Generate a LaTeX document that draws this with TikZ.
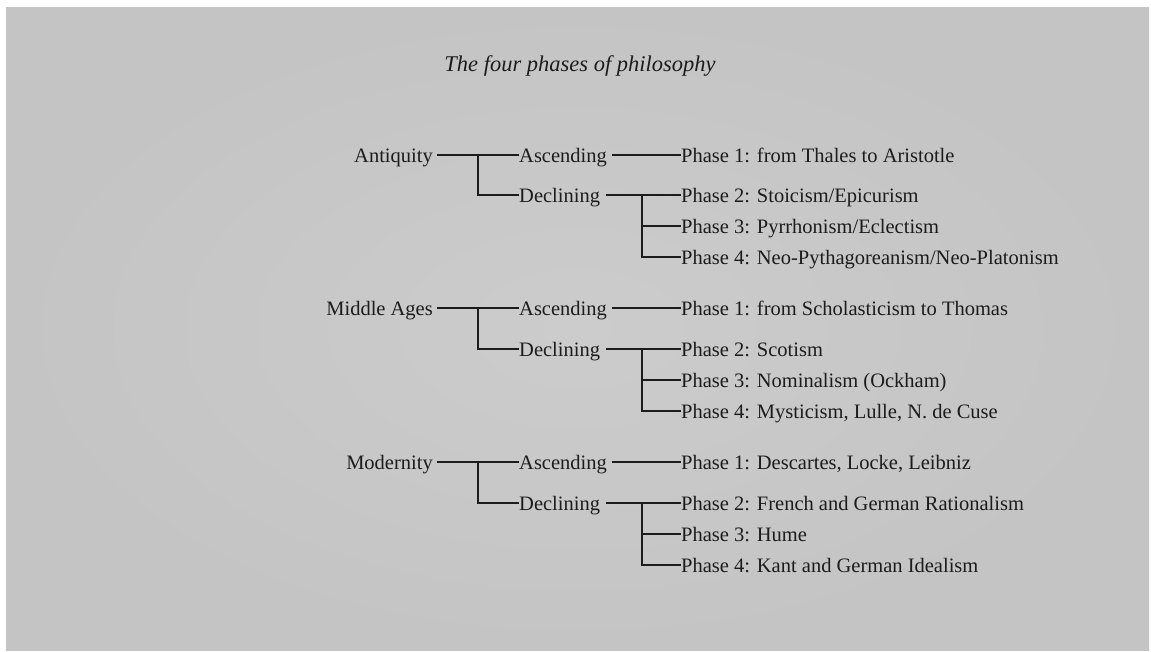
\documentclass[tikz,border=0pt]{standalone}
\usepackage{fontspec}
\setmainfont{Liberation Serif}
\definecolor{ink}{RGB}{28,28,28}
\definecolor{bginner}{RGB}{204,204,204}
\definecolor{bgouter}{RGB}{196,196,196}
\tikzset{
  lbl/.style={inner sep=0pt, text height=20pt, text depth=5pt,
    text=ink, font=\fontsize{20.5}{24}\selectfont},
  era/.style={lbl, anchor=east},
  branch/.style={lbl, anchor=west},
  link/.style={draw=ink, line width=1.6pt},
}
\begin{document}
\begin{tikzpicture}[x=1pt,y=-1pt]
  \useasboundingbox (0,0) rectangle (1151,651);
  \fill[white] (0,0) rectangle (1151,651);
  \shade[inner color=bginner, outer color=bgouter] (6,7) rectangle (1149,650);

  \node[font=\fontsize{22.5}{26}\selectfont\itshape, text=ink, anchor=base]
    (title) at (580,71) {The four phases of philosophy};

  % x positions of the two vertical branch lines
  \coordinate (bA) at (478,0);
  \coordinate (bB) at (642,0);

  % ---------- Antiquity ----------
  \node[era] (e1) at (433,155) {Antiquity};
  \node[branch] (a1) at (519,155) {Ascending};
  \node[branch] (d1) at (519,195) {Declining};
  \node[branch] (p11) at (681,155) {Phase 1: from Thales to Aristotle};
  \node[branch] (p12) at (681,195) {Phase 2: Stoicism/Epicurism};
  \node[branch] (p13) at (681,226) {Phase 3: Pyrrhonism/Eclectism};
  \node[branch] (p14) at (681,257) {Phase 4: Neo-Pythagoreanism/Neo-Platonism};

  % ---------- Middle Ages ----------
  \node[era] (e2) at (433,308) {Middle Ages};
  \node[branch] (a2) at (519,308) {Ascending};
  \node[branch] (d2) at (519,349) {Declining};
  \node[branch] (p21) at (681,308) {Phase 1: from Scholasticism to Thomas};
  \node[branch] (p22) at (681,349) {Phase 2: Scotism};
  \node[branch] (p23) at (681,380) {Phase 3: Nominalism (Ockham)};
  \node[branch] (p24) at (681,411) {Phase 4: Mysticism, Lulle, N. de Cuse};

  % ---------- Modernity ----------
  \node[era] (e3) at (433,462) {Modernity};
  \node[branch] (a3) at (519,462) {Ascending};
  \node[branch] (d3) at (519,503) {Declining};
  \node[branch] (p31) at (681,462) {Phase 1: Descartes, Locke, Leibniz};
  \node[branch] (p32) at (681,503) {Phase 2: French and German Rationalism};
  \node[branch] (p33) at (681,534) {Phase 3: Hume};
  \node[branch] (p34) at (681,565) {Phase 4: Kant and German Idealism};

  % connectors
  \foreach \i in {1,2,3}{
    \draw[link, shorten <=4pt] (e\i.east) -- (a\i.west);
    \draw[link] (e\i.east -| bA) |- (d\i.west);
    \draw[link, shorten <=5pt] (a\i.east) -- (p\i1.west);
    \draw[link, shorten <=6pt] (d\i.east) -- (p\i2.west);
    \draw[link] (d\i.east -| bB) |- (p\i3.west);
    \draw[link] (d\i.east -| bB) |- (p\i4.west);
  }
\end{tikzpicture}
\end{document}
